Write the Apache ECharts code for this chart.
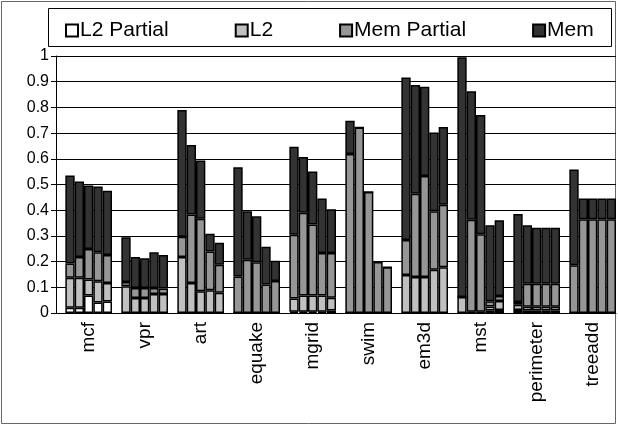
<!DOCTYPE html>
<html>
<head>
<meta charset="utf-8">
<script src="https://cdn.jsdelivr.net/npm/echarts@6/dist/echarts.min.js"></script>
<style>
  html, body { margin: 0; padding: 0; background: #fff; }
  #chart { width: 618px; height: 426px; }
</style>
</head>
<body>
<div id="chart"></div>
<script>
// Benchmarks, each with five configurations (bars) of stacked miss components
const benchmarks = ['mcf', 'vpr', 'art', 'equake', 'mgrid', 'swim', 'em3d', 'mst', 'perimeter', 'treeadd'];
const seriesNames = ['L2 Partial', 'L2', 'Mem Partial', 'Mem'];
const yTickStep = 0.1;

// five bars per benchmark, in benchmark order
const l2Partial = [
  0.020, 0.020, 0.068, 0.041, 0.045,
  0.000, 0.000, 0.000, 0.000, 0.000,
  0.000, 0.000, 0.000, 0.000, 0.000,
  0.000, 0.000, 0.000, 0.000, 0.000,
  0.005, 0.005, 0.005, 0.005, 0.010,
  0.000, 0.000, 0.000, 0.000, 0.000,
  0.000, 0.000, 0.000, 0.000, 0.000,
  0.000, 0.000, 0.000, 0.010, 0.012,
  0.012, 0.010, 0.010, 0.010, 0.010,
  0.000, 0.000, 0.000, 0.000, 0.000
];
const l2 = [
  0.117, 0.117, 0.062, 0.083, 0.072,
  0.104, 0.058, 0.058, 0.074, 0.074,
  0.218, 0.117, 0.085, 0.089, 0.079,
  0.000, 0.000, 0.000, 0.000, 0.000,
  0.051, 0.063, 0.063, 0.063, 0.049,
  0.000, 0.000, 0.000, 0.000, 0.000,
  0.148, 0.140, 0.140, 0.168, 0.178,
  0.062, 0.005, 0.005, 0.015, 0.035,
  0.020, 0.014, 0.014, 0.014, 0.014,
  0.000, 0.000, 0.000, 0.000, 0.000
];
const memPartial = [
  0.056, 0.081, 0.119, 0.112, 0.109,
  0.017, 0.039, 0.039, 0.023, 0.021,
  0.079, 0.266, 0.282, 0.150, 0.109,
  0.142, 0.207, 0.197, 0.111, 0.125,
  0.248, 0.322, 0.276, 0.165, 0.174,
  0.619, 0.722, 0.471, 0.198, 0.178,
  0.136, 0.324, 0.393, 0.228, 0.243,
  0.000, 0.358, 0.301, 0.021, 0.019,
  0.011, 0.090, 0.090, 0.090, 0.090,
  0.186, 0.365, 0.365, 0.365, 0.365
];
const mem = [
  0.342, 0.294, 0.247, 0.256, 0.250,
  0.174, 0.121, 0.116, 0.139, 0.131,
  0.493, 0.271, 0.226, 0.069, 0.085,
  0.425, 0.189, 0.179, 0.147, 0.078,
  0.343, 0.217, 0.207, 0.213, 0.171,
  0.129, 0.000, 0.000, 0.000, 0.000,
  0.632, 0.423, 0.347, 0.306, 0.303,
  0.933, 0.500, 0.464, 0.295, 0.295,
  0.342, 0.227, 0.218, 0.218, 0.218,
  0.372, 0.081, 0.081, 0.081, 0.081
];

const BARS = 5;          // bars per benchmark
const SLOTS = BARS + 1;  // one empty slot separates the groups

// Expand the per-bar values onto the slot axis (empty slot first in each group)
function toSlots(values) {
  const out = [];
  benchmarks.forEach((b, g) => {
    out.push('-');
    for (let i = 0; i < BARS; i++) out.push(values[g * BARS + i]);
  });
  return out;
}
const slotKeys = [];
benchmarks.forEach((b, g) => {
  for (let s = 0; s < SLOTS; s++) slotKeys.push(b + '#' + s);
});

const fills = ['#ffffff', '#c0c0c0', '#969696', '#333333'];
const values = [l2Partial, l2, memPartial, mem];

const chart = echarts.init(document.getElementById('chart'), null, { renderer: 'canvas' });
chart.setOption({
  animation: false,
  backgroundColor: '#ffffff',
  textStyle: { fontFamily: 'Liberation Sans, Arial, sans-serif', color: '#000' },
  graphic: [
    { type: 'rect', shape: { x: 1.5, y: 1.5, width: 614, height: 422 },
      style: { fill: 'none', stroke: '#666', lineWidth: 1 }, silent: true, z: 0 },
    { type: 'rect', shape: { x: 48.5, y: 8.5, width: 563, height: 38 },
      style: { fill: 'none', stroke: '#000', lineWidth: 1 }, silent: true, z: 0 }
  ],
  legend: {
    top: 15,
    left: 60,
    itemGap: 66,
    itemWidth: 12,
    itemHeight: 12,
    icon: 'rect',
    textStyle: { fontSize: 21, color: '#000', padding: [0, 0, 0, -3] },
    data: seriesNames
  },
  grid: { left: 56, right: 2, top: 56, bottom: 113, containLabel: false },
  xAxis: {
    type: 'category',
    data: slotKeys,
    boundaryGap: true,
    axisLine: { lineStyle: { color: '#000', width: 1 } },
    axisTick: { show: false },
    axisLabel: {
      interval: 0,
      rotate: 90,
      fontSize: 19,
      color: '#000',
      margin: 9,
      formatter: (v, idx) => (idx % SLOTS === 3 ? benchmarks[Math.floor(idx / SLOTS)] : '')
    },
    splitLine: { show: false }
  },
  yAxis: {
    type: 'value',
    min: 0,
    max: 1,
    interval: yTickStep,
    axisLine: { show: true, lineStyle: { color: '#000', width: 1 } },
    axisTick: { show: true, inside: false, length: 5, lineStyle: { color: '#000' } },
    axisLabel: { fontSize: 16, color: '#000', margin: 7 },
    splitLine: { show: true, lineStyle: { color: '#000', width: 1 } }
  },
  series: seriesNames.map((name, k) => ({
    name,
    type: 'bar',
    stack: 'total',
    barCategoryGap: '0%',
    barWidth: '100%',
    data: toSlots(values[k]),
    itemStyle: { color: fills[k], borderColor: '#000', borderWidth: 1.5 },
    emphasis: { disabled: true }
  }))
});
</script>
</body>
</html>
